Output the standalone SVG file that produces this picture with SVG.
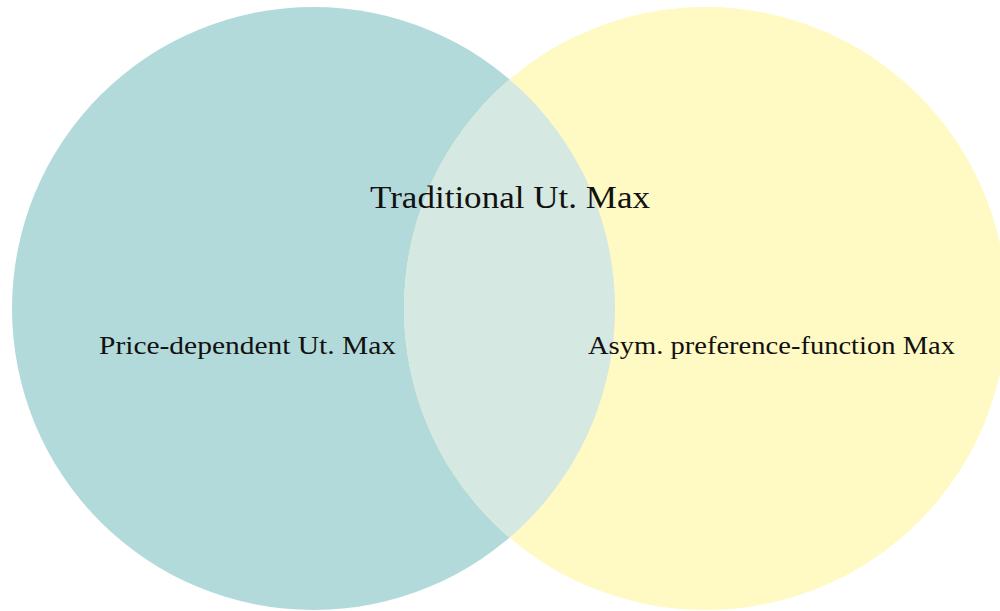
<svg xmlns="http://www.w3.org/2000/svg" width="1000" height="611" viewBox="0 0 1000 611">
  <style>
    .lbl { font-family: "Liberation Serif", "DejaVu Serif", serif; fill: #111111; }
  </style>
  <defs>
    <clipPath id="clip-left">
      <circle cx="313.5" cy="308.5" r="301.5"/>
    </clipPath>
  </defs>
  <rect width="1000" height="611" fill="#ffffff"/>
  <g id="set-price-dependent">
    <circle cx="313.5" cy="308.5" r="301.5" fill="#b3dada"/>
  </g>
  <g id="set-asymmetric">
    <circle cx="705.5" cy="308.5" r="301.5" fill="#fff9c3"/>
  </g>
  <!-- intersection of the two sets -->
  <g id="set-traditional">
    <circle cx="705.5" cy="308.5" r="301.5" fill="#d5e8e1" clip-path="url(#clip-left)"/>
  </g>
  <g id="labels">
    <text class="lbl" x="370" y="208" font-size="31" textLength="280" lengthAdjust="spacingAndGlyphs">Traditional Ut. Max</text>
    <text class="lbl" x="99" y="354" font-size="25" textLength="297" lengthAdjust="spacingAndGlyphs">Price-dependent Ut. Max</text>
    <text class="lbl" x="588" y="354" font-size="25" textLength="367" lengthAdjust="spacingAndGlyphs">Asym. preference-function Max</text>
  </g>
</svg>
